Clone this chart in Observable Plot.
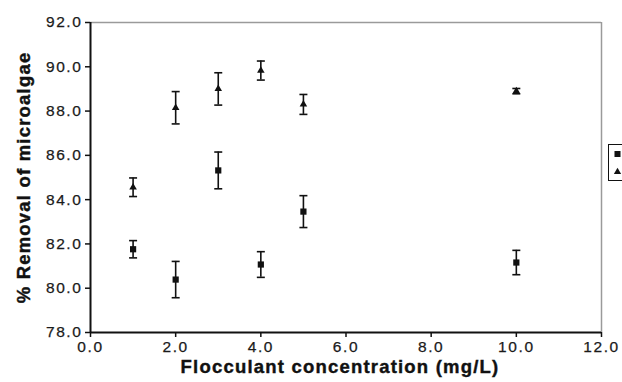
<!DOCTYPE html>
<html><head><meta charset="utf-8">
<script src="https://cdn.jsdelivr.net/npm/d3@7"></script>
<script src="https://cdn.jsdelivr.net/npm/@observablehq/plot@0.6"></script>
<style>
html,body{margin:0;padding:0;background:#fff;overflow:hidden;}
#wrap{position:relative;width:622px;height:382px;}
#wrap svg text{font-family:"Liberation Sans",Arial,sans-serif;}
#legend{position:absolute;left:608px;top:144px;width:30px;height:37px;border:1px solid #111;box-sizing:border-box;background:#fff;}
</style></head>
<body><div id="wrap"></div>
<script>
const concentrations = [1, 2, 3, 4, 5, 10];
const squareMean = [81.76, 80.39, 85.32, 81.07, 83.46, 81.16];
const squareErr  = [0.39, 0.82, 0.83, 0.58, 0.72, 0.55];
const triMean    = [84.56, 88.15, 89.0, 89.83, 88.3, 88.9];
const triErr     = [0.42, 0.73, 0.73, 0.43, 0.45, 0.12];
const xTicks = [0, 2, 4, 6, 8, 10, 12];
const yTicks = [78, 80, 82, 84, 86, 88, 90, 92];
const xTitle = "Flocculant concentration (mg/L)";
const yTitle = "% Removal of microalgae";

const rows = [];
concentrations.forEach((c, i) => {
  rows.push({x: c, y: squareMean[i], e: squareErr[i], s: "square"});
  rows.push({x: c, y: triMean[i], e: triErr[i], s: "triangle"});
});
const capSymbol = {draw(ctx, size) { const w = Math.sqrt(size / Math.PI); ctx.moveTo(-w, 0); ctx.lineTo(w, 0); }};
const fmt = d3.format(".1f");

const chart = Plot.plot({
  width: 622, height: 382,
  marginLeft: 90, marginRight: 21, marginTop: 22, marginBottom: 50,
  style: {background: "#fff", fontSize: "15px", color: "#111"},
  x: {domain: [0, 12], axis: null},
  y: {domain: [78, 92], axis: null},
  marks: [
    Plot.ruleY([92], {stroke: "#9a9a9a", strokeWidth: 1.5}),
    Plot.ruleX([12], {stroke: "#9a9a9a", strokeWidth: 1.5}),
    Plot.axisX({ticks: xTicks, tickFormat: fmt, tickSize: 5, tickPadding: 3, strokeWidth: 1.5, label: null, fontSize: 15.5, fill: "#1a1a1a"}),
    Plot.axisY({ticks: yTicks, tickFormat: fmt, tickSize: 5, tickPadding: 3, strokeWidth: 1.5, label: null, fontSize: 15.5, fill: "#1a1a1a"}),
    Plot.ruleX([0], {stroke: "#111", strokeWidth: 2}),
    Plot.ruleY([78], {stroke: "#111", strokeWidth: 2}),
    Plot.ruleX(rows, {x: "x", y1: d => d.y - d.e, y2: d => d.y + d.e, stroke: "#111", strokeWidth: 1.6}),
    Plot.dot(rows, {x: "x", y: d => d.y + d.e, symbol: capSymbol, r: 4, stroke: "#111", strokeWidth: 1.6, fill: "none"}),
    Plot.dot(rows, {x: "x", y: d => d.y - d.e, symbol: capSymbol, r: 4, stroke: "#111", strokeWidth: 1.6, fill: "none"}),
    Plot.dot(rows.filter(d => d.s === "square"), {x: "x", y: "y", symbol: "square", r: 3.5, fill: "#111", stroke: "none"}),
    Plot.dot(rows.filter(d => d.s === "triangle"), {x: "x", y: "y", symbol: "triangle", r: 2.8, fill: "#111", stroke: "none"}),
    Plot.text([xTitle], {text: d => d, frameAnchor: "bottom", dy: 40, dx: -6, fontWeight: "bold", fontSize: 18.5, fill: "#111"}),
    Plot.text([yTitle], {text: d => d, frameAnchor: "left", textAnchor: "middle", dx: -66, rotate: -90, fontWeight: "bold", fontSize: 18.5, fill: "#111"})
  ]
});
const wrap = document.getElementById("wrap");
wrap.appendChild(chart);
const sel = d3.select(chart).selectAll("text");
sel.filter(function(){ return this.textContent === xTitle || this.textContent === yTitle; })
  .style("letter-spacing", "1.2px").style("font-weight", "bold").style("font-size", "18.5px")
  .style("stroke", "#111").style("stroke-width", "0.4px");
sel.filter(function(){ return /^\d+\.\d$/.test(this.textContent); })
  .style("letter-spacing", "1.6px").style("font-size", "15.5px").style("fill", "#1a1a1a")
  .style("stroke", "#1a1a1a").style("stroke-width", "0.25px");

// legend (labels cut off at the window edge in the reference)
const legend = document.createElement("div");
legend.id = "legend";
wrap.appendChild(legend);
const lg = d3.select(legend).append("svg").attr("width", 30).attr("height", 37);
const symSize = [["square", 3.4], ["triangle", 2.7]];
symSize.forEach(([name, r], i) => {
  lg.append("path")
    .attr("d", d3.symbol(name === "square" ? d3.symbolSquare : d3.symbolTriangle, r * r * Math.PI)())
    .attr("transform", `translate(8.5,${9 + i * 18})`)
    .attr("fill", "#111");
});
</script></body></html>
